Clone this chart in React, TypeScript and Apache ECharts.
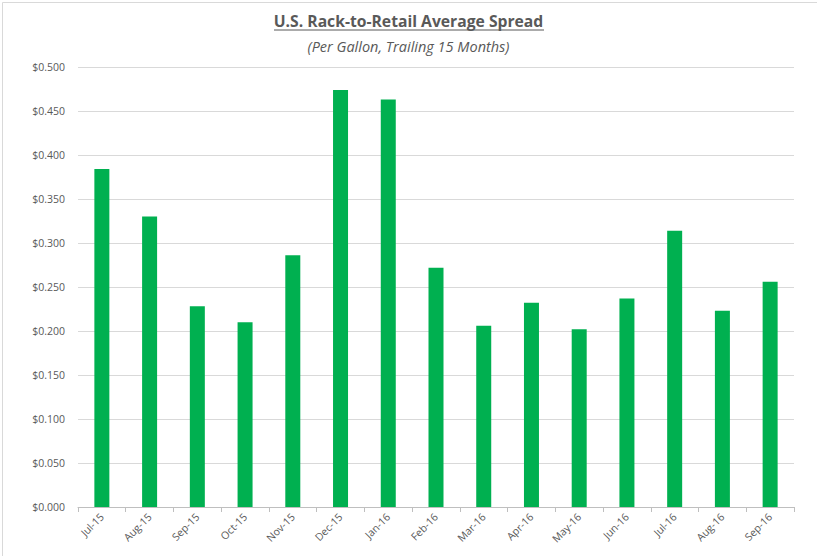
import React, { useEffect, useRef } from "react";
import * as echarts from "echarts";

const categories = ["Jul-15", "Aug-15", "Sep-15", "Oct-15", "Nov-15", "Dec-15", "Jan-16", "Feb-16", "Mar-16", "Apr-16", "May-16", "Jun-16", "Jul-16", "Aug-16", "Sep-16"];
const spreadValues = [0.384, 0.330, 0.228, 0.210, 0.286, 0.474, 0.463, 0.272, 0.206, 0.232, 0.202, 0.237, 0.314, 0.223, 0.256];
const titleText = "U.S. Rack-to-Retail Average Spread";
const subtitleText = "(Per Gallon, Trailing 15 Months)";

export default function App() {
  const ref = useRef<HTMLDivElement>(null);
  useEffect(() => {
    const chart = echarts.init(ref.current!, null, { renderer: "svg" });
    const font = "'Open Sans', 'Noto Sans', sans-serif";
    chart.setOption({
      animation: false,
      backgroundColor: "#ffffff",
      textStyle: { fontFamily: font },
      title: [
        {
          text: titleText,
          left: "center",
          top: 8,
          textStyle: { fontFamily: font, fontSize: 15.7, fontWeight: "bold", color: "#595959" },
        },
        {
          text: subtitleText,
          left: "center",
          top: 34,
          textStyle: { fontFamily: font, fontSize: 14.5, fontStyle: "italic", fontWeight: "normal", color: "#595959" },
        },
      ],
      graphic: [
        {
          type: "rect",
          left: 0,
          top: 0,
          shape: { width: 816, height: 555 },
          style: { fill: "none", stroke: "#d9d9d9", lineWidth: 1 },
          silent: true,
        },
        {
          type: "line",
          shape: { x1: 274, y1: 30, x2: 544, y2: 30 },
          style: { stroke: "#595959", lineWidth: 1 },
          silent: true,
        },
      ],
      grid: { left: 78, right: 23, top: 67, bottom: 49 },
      xAxis: {
        type: "category",
        data: categories,
        boundaryGap: true,
        axisLine: { show: true, lineStyle: { color: "#bfbfbf" } },
        axisTick: { show: true, alignWithLabel: false, length: 5, lineStyle: { color: "#bfbfbf" } },
        axisLabel: { rotate: 45, fontSize: 10.5, color: "#595959", fontFamily: font, margin: 8, interval: 0 },
      },
      yAxis: {
        type: "value",
        min: 0,
        max: 0.5,
        interval: 0.05,
        axisLine: { show: false },
        axisTick: { show: false },
        axisLabel: {
          fontSize: 10.5,
          color: "#595959",
          fontFamily: font,
          margin: 13,
          formatter: (v: number) => "$" + v.toFixed(3),
        },
        splitLine: { show: true, lineStyle: { color: "#d9d9d9", width: 1 } },
      },
      series: [
        {
          type: "bar",
          data: spreadValues,
          barWidth: 15,
          itemStyle: { color: "#00b050" },
        },
      ],
    });
    return () => chart.dispose();
  }, []);
  return <div ref={ref} style={{ position: "absolute", left: 0, top: 0, width: 817, height: 556 }} />;
}
